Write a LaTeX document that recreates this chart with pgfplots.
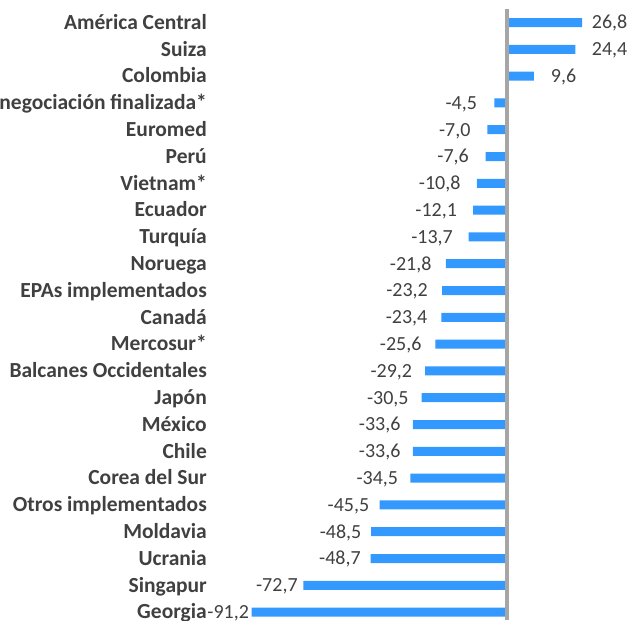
\documentclass[border=0pt]{standalone}
\usepackage{fontspec}
\setmainfont{Carlito}
\usepackage{pgfplots}
\usepackage{pgfplotstable}
\pgfplotsset{compat=1.18}

\definecolor{barblue}{RGB}{51,153,255}
\definecolor{txt}{RGB}{64,64,64}
\definecolor{zeroline}{RGB}{166,166,166}

% lx: where the value label sits (axis units)
\pgfplotstableread[col sep=semicolon]{
idx;name;val;lx;lab
0;América Central;26.8;30.25;26,8
1;Suiza;24.4;30.25;24,4
2;Colombia;9.6;15.61;9,6
3;negociación finalizada*;-4.5;-10.66;-4,5
4;Euromed;-7.0;-13.00;-7,0
5;Perú;-7.6;-13.57;-7,6
6;Vietnam*;-10.8;-16.57;-10,8
7;Ecuador;-12.1;-17.79;-12,1
8;Turquía;-13.7;-19.29;-13,7
9;Noruega;-21.8;-26.90;-21,8
10;EPAs implementados;-23.2;-28.21;-23,2
11;Canadá;-23.4;-28.40;-23,4
12;Mercosur*;-25.6;-30.47;-25,6
13;Balcanes Occidentales;-29.2;-33.85;-29,2
14;Japón;-30.5;-35.07;-30,5
15;México;-33.6;-37.98;-33,6
16;Chile;-33.6;-37.98;-33,6
17;Corea del Sur;-34.5;-38.83;-34,5
18;Otros implementados;-45.5;-49.15;-45,5
19;Moldavia;-48.5;-51.97;-48,5
20;Ucrania;-48.7;-52.16;-48,7
21;Singapur;-72.7;-74.70;-72,7
22;Georgia;-91.2;-92.07;-91,2
}\datos

\begin{document}
\begin{tikzpicture}
\begin{axis}[
    x=2.8pt, y=26.8pt, y dir=reverse,
    xmin=-181.07, xmax=44.64,
    ymin=-0.8396, ymax=22.295,
    hide axis, clip=false,
    labels/.style={draw=none, mark=none, nodes near coords, point meta=explicit symbolic},
]
% bars
\addplot[xbar, bar width=9pt, fill=barblue, draw=none] table[x=val, y=idx] {\datos};
% zero line
\addplot[zeroline, line width=3.3pt] coordinates {(0,-0.504) (0,22.295)};
% category names
\addplot[labels,
    every node near coord/.append style={anchor=base east, inner sep=0pt, yshift=-6.7pt,
        font=\bfseries\fontsize{21.5}{25}\selectfont, text=txt}]
    table[x expr=-107.14, y=idx, meta=name] {\datos};
% value labels, positive side
\addplot[labels, restrict expr to domain={\thisrow{val}}{0:100},
    every node near coord/.append style={anchor=base west, inner sep=0pt, yshift=-6.3pt,
        font=\fontsize{20}{24}\selectfont, text=txt}]
    table[x=lx, y=idx, meta=lab] {\datos};
% value labels, negative side
\addplot[labels, restrict expr to domain={\thisrow{val}}{-100:0},
    every node near coord/.append style={anchor=base east, inner sep=0pt, yshift=-6.3pt,
        font=\fontsize{20}{24}\selectfont, text=txt}]
    table[x=lx, y=idx, meta=lab] {\datos};
\end{axis}
\pgfresetboundingbox
\path[use as bounding box] (current axis.south west) rectangle (current axis.north east);
\end{tikzpicture}
\end{document}
